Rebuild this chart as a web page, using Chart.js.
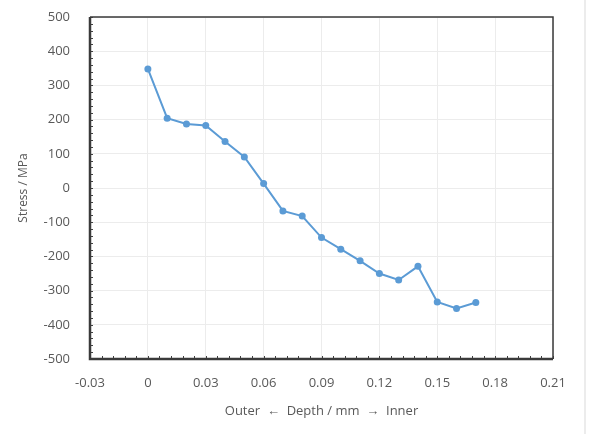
<!DOCTYPE html>
<html>
<head>
<meta charset="utf-8">
<script src="https://cdn.jsdelivr.net/npm/chart.js@4/dist/chart.umd.min.js"></script>
<style>
  html,body{margin:0;padding:0;background:#fff;}
  #wrap{position:relative;width:589px;height:434px;}
  #edge{position:absolute;left:584px;top:0;width:2px;height:434px;background:#ececec;}
</style>
</head>
<body>
<div id="wrap">
  <canvas id="c" width="589" height="434"></canvas>
  <div id="edge"></div>
</div>
<script>
// depth (mm) and residual stress (MPa)
const depth  = [0, 0.01, 0.02, 0.03, 0.04, 0.05, 0.06, 0.07, 0.08, 0.09, 0.10, 0.11, 0.12, 0.13, 0.14, 0.15, 0.16, 0.17];
const stress = [348, 204, 187, 183, 136, 91, 13, -67, -82, -145, -179, -213, -250, -269, -229, -333, -352, -335];

const xTicks = [-0.03, 0, 0.03, 0.06, 0.09, 0.12, 0.15, 0.18, 0.21];
const yTicks = [-500, -400, -300, -200, -100, 0, 100, 200, 300, 400, 500];

const font = {family:'"Open Sans", "Liberation Sans", sans-serif', size:13};
const tickColor = '#595959';
const lineBlue = '#5b9bd5';

// 小目盛り（内向き）と枠線を scale 経由で描く
const frame = {
  id:'frame',
  afterDatasetsDraw(chart){
    const {ctx, chartArea:a, scales:{x, y}} = chart;
    ctx.save();
    ctx.strokeStyle = '#404040';
    ctx.lineWidth = 1;
    // x minor ticks: 5 per major
    for(let i=0;i<=40;i++){
      const px = Math.round(x.getPixelForValue(-0.03 + i*0.006)) + 0.5;
      ctx.beginPath(); ctx.moveTo(px, a.bottom); ctx.lineTo(px, a.bottom-3); ctx.stroke();
    }
    // y minor ticks: every 20
    for(let i=0;i<=50;i++){
      const py = Math.round(y.getPixelForValue(-500 + i*20)) + 0.5;
      ctx.beginPath(); ctx.moveTo(a.left, py); ctx.lineTo(a.left+3, py); ctx.stroke();
    }
    // top / right border (thin) and left / bottom axes (thick)
    ctx.strokeStyle = '#3a3a3a';
    ctx.lineWidth = 1.5;
    ctx.beginPath();
    ctx.moveTo(a.left, a.top); ctx.lineTo(a.right, a.top); ctx.lineTo(a.right, a.bottom);
    ctx.stroke();
    ctx.lineWidth = 2.5;
    ctx.beginPath();
    ctx.moveTo(a.left, a.top); ctx.lineTo(a.left, a.bottom); ctx.lineTo(a.right, a.bottom);
    ctx.stroke();
    ctx.restore();
  }
};

new Chart(document.getElementById('c').getContext('2d'), {
  type:'line',
  data:{
    datasets:[{
      data: depth.map((d,i)=>({x:d, y:stress[i]})),
      borderColor: lineBlue, backgroundColor: lineBlue,
      borderWidth: 2, tension: 0,
      pointRadius: 3.5, pointBackgroundColor: lineBlue, pointBorderColor: lineBlue, pointBorderWidth: 0,
    }]
  },
  options:{
    responsive:false, animation:false,
    layout:{padding:{left:0, right:36, top:17, bottom:0}},
    plugins:{legend:{display:false}, tooltip:{enabled:false}},
    scales:{
      x:{
        type:'linear', min:-0.03, max:0.21,
        afterBuildTicks: s => { s.ticks = xTicks.map(v=>({value:v})); },
        afterFit: s => { s.height = 75; },
        grid:{color:'#ececec', drawTicks:false},
        border:{display:false},
        ticks:{color:tickColor, font, padding:16, maxRotation:0, callback:v => String(+v.toFixed(2))},
        title:{display:true, text:'Outer  \u2190  Depth / mm  \u2192  Inner', color:tickColor, font, padding:{top:0, bottom:15}}
      },
      y:{
        type:'linear', min:-500, max:500,
        afterBuildTicks: s => { s.ticks = yTicks.map(v=>({value:v})); },
        // tick padding が上下の余白に足されるので打ち消す
        afterFit: s => { s.width = 90; s.paddingTop = 0; s.paddingBottom = 0; },
        grid:{color:'#ececec', drawTicks:false},
        border:{display:false},
        ticks:{color:tickColor, font, padding:20, callback:v => String(v)},
        title:{display:true, text:'Stress / MPa', color:tickColor, font:{...font, size:12}, padding:{bottom:0, top:16}}
      }
    }
  },
  plugins:[frame]
});
</script>
</body>
</html>
